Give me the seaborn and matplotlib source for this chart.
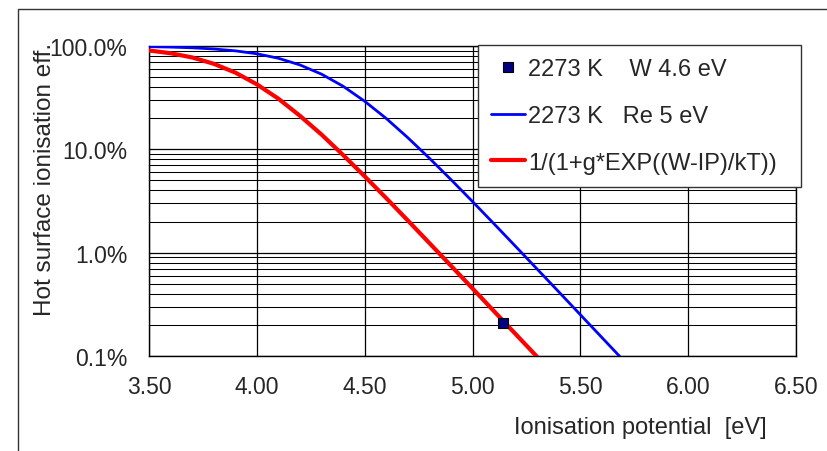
import numpy as np
import pandas as pd
import matplotlib
matplotlib.use("Agg")
import matplotlib.pyplot as plt
import seaborn as sns
from matplotlib.lines import Line2D
from matplotlib.patches import Rectangle
from matplotlib.ticker import FuncFormatter, LogLocator, NullFormatter, FixedLocator

# ionisation potential [eV]
ip = [3.5, 3.6, 3.7, 3.8, 3.9, 4.0, 4.1, 4.2, 4.3, 4.4, 4.5, 4.6,
      4.7, 4.8, 4.9, 5.0, 5.1, 5.2, 5.3, 5.4, 5.5, 5.6, 5.7]

# 2273 K, Re 5 eV (blue)
eff_re = [0.9855, 0.976, 0.961, 0.936, 0.898, 0.841, 0.761, 0.656, 0.534,
          0.408, 0.292, 0.199, 0.1297, 0.0821, 0.0510, 0.03125, 0.0190,
          0.01149, 0.00693, 0.00418, 0.00251, 0.00151, 0.000907]

# 1/(1+g*EXP((W-IP)/kT)) (red), W 4.6 eV
ip_w = ip[:19]
eff_w = [0.905, 0.851, 0.775, 0.673, 0.553, 0.426, 0.309, 0.211, 0.139,
         0.0881, 0.0548, 0.0337, 0.0205, 0.01239, 0.00748, 0.00451,
         0.00271, 0.00163, 0.00098]

# measured point
pt_ip = [5.14]
pt_eff = [0.0021]

labels = ["2273 K    W 4.6 eV", "2273 K   Re 5 eV", "1/(1+g*EXP((W-IP)/kT))"]

sns.set_style("white")
plt.rcParams['font.family'] = ['Liberation Sans', 'DejaVu Sans']

fig = plt.figure(figsize=(8.27, 4.52), dpi=100)
ax = fig.add_axes([149/827, 1-357/452, (796-149)/827, (357-47)/452])

df_re = pd.DataFrame({'ip': ip, 'eff': eff_re})
df_w = pd.DataFrame({'ip': ip_w, 'eff': eff_w})
df_pt = pd.DataFrame({'ip': pt_ip, 'eff': pt_eff})

sns.lineplot(data=df_re, x='ip', y='eff', ax=ax, color='#0000FF', lw=2.0, zorder=3)
sns.lineplot(data=df_w, x='ip', y='eff', ax=ax, color='#FF0000', lw=3.0, zorder=4)
sns.scatterplot(data=df_pt, x='ip', y='eff', ax=ax, marker='s', s=42,
                color='#000080', edgecolor='black', linewidth=0.8, zorder=5)

ax.set_yscale('log')
ax.set_xlim(3.5, 6.5)
ax.set_ylim(0.001, 1.0)
ax.set_xticks([3.5, 4.0, 4.5, 5.0, 5.5, 6.0, 6.5])
ax.xaxis.set_major_formatter(FuncFormatter(lambda v, p: f"{v:.2f}"))
ax.yaxis.set_major_locator(FixedLocator([0.001, 0.01, 0.1, 1.0]))
ax.yaxis.set_minor_locator(LogLocator(base=10, subs=np.arange(2, 10)))
ax.yaxis.set_minor_formatter(NullFormatter())
ax.yaxis.set_major_formatter(FuncFormatter(lambda v, p: f"{v*100:.1f}%"))

ax.grid(True, which='major', axis='both', color='#000000', lw=0.9)
ax.grid(True, which='minor', axis='y', color='#000000', lw=0.75)
ax.set_axisbelow(True)

for s in ax.spines.values():
    s.set_color('black')
    s.set_linewidth(1.0)

ax.tick_params(axis='y', which='major', direction='inout', length=11, width=1,
               color='black', labelsize=16.5, pad=10)
ax.tick_params(axis='x', which='major', direction='out', length=4.5, width=1,
               color='black', labelsize=16.5, pad=9)
ax.tick_params(axis='y', which='minor', length=0)

ax.set_xlabel("Ionisation potential  [eV]", fontsize=17, va='center')
ax.xaxis.set_label_coords((640-149)/647, (357-428)/310)
ax.set_ylabel("Hot surface ionisation eff.", fontsize=17.5, va='center', ha='center')
ax.yaxis.set_label_coords((45-149)/647, (357-179)/310)

handles = [
    Line2D([], [], ls='none', marker='s', markersize=6.5, markerfacecolor='#000080',
           markeredgecolor='black', markeredgewidth=0.8),
    Line2D([], [], color='#0000FF', lw=2.0),
    Line2D([], [], color='#FF0000', lw=3.0),
]
leg = ax.legend(handles, labels, loc='upper left', mode='expand',
                bbox_to_anchor=(478/827, (452-184)/452, 323/827, 138/452),
                bbox_transform=fig.transFigure,
                borderaxespad=0, fontsize=17, frameon=True, fancybox=False,
                framealpha=1, edgecolor='#333333', handlelength=1.45,
                handletextpad=0.12, labelspacing=1.05, borderpad=0.55)
leg.get_frame().set_linewidth(1.0)
leg.set_zorder(10)

fig.add_artist(Rectangle((18/827, -0.1), 1.2, 1-10/452+0.1, transform=fig.transFigure,
                         fill=False, ec='#333333', lw=1.0))

fig.savefig("out.png", dpi=100)
